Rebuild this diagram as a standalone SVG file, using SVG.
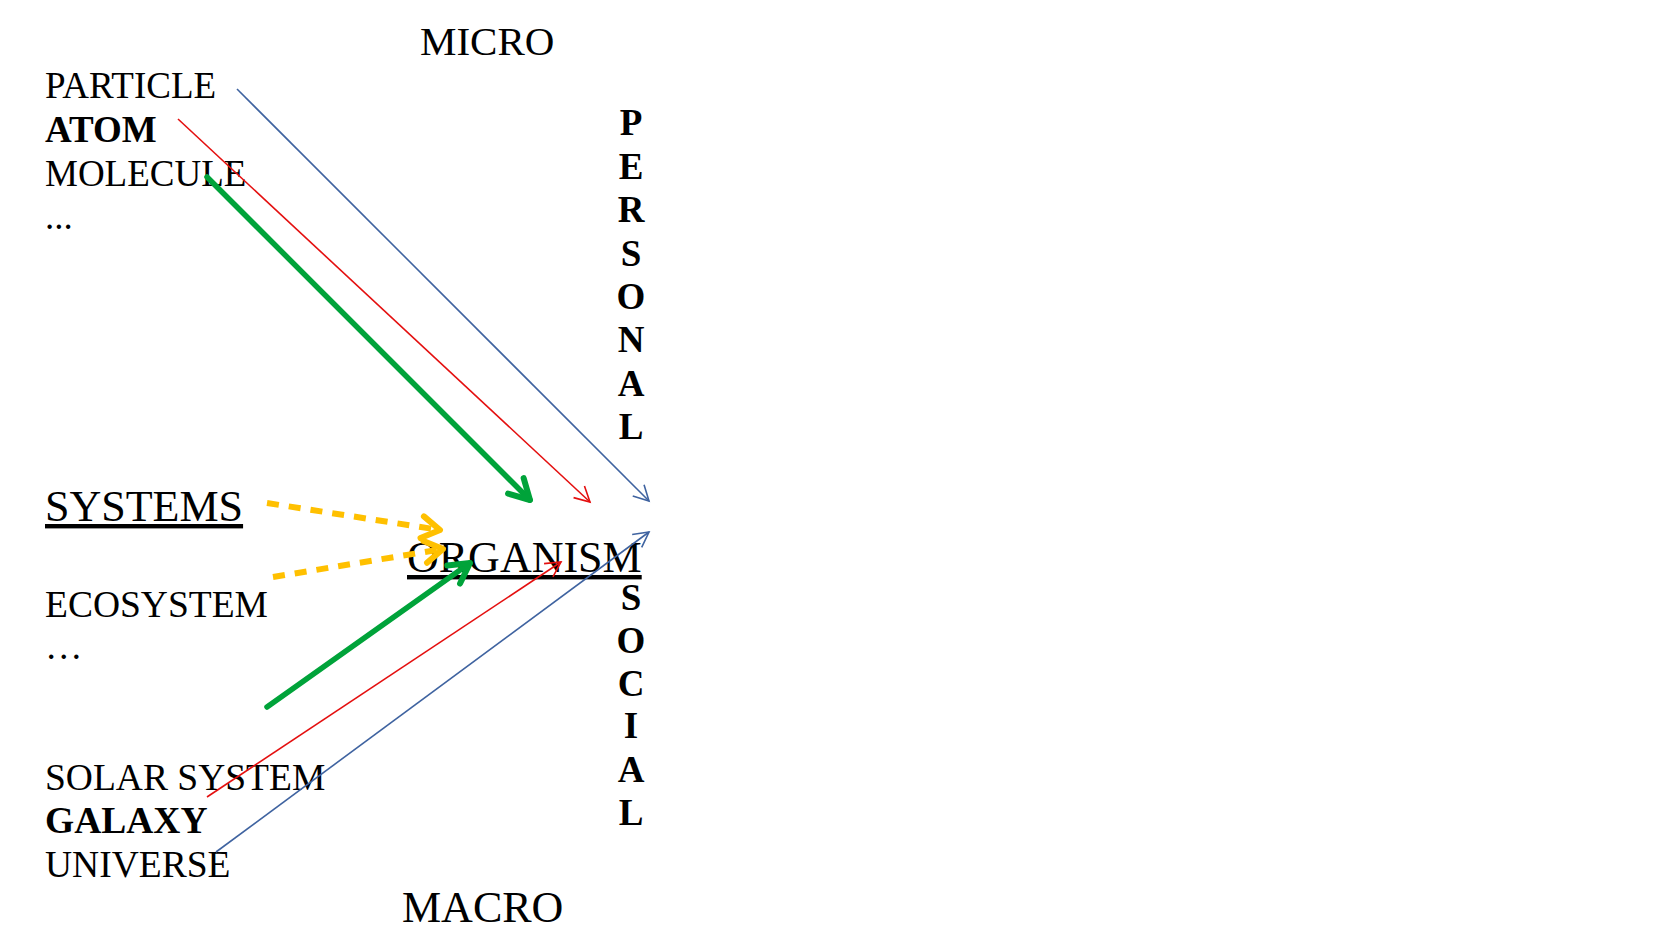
<svg xmlns="http://www.w3.org/2000/svg" width="1654" height="930" viewBox="0 0 1654 930">
<style>
  text { font-family: "Liberation Serif", "Times New Roman", serif; fill: #000; }
  .s36 { font-size: 37px; }
  .s37 { font-size: 37.5px; }
  .big { font-size: 44px; }
  .b { font-weight: bold; }
  .v { font-size: 37px; font-weight: bold; text-anchor: middle; }
  .blue { stroke: #3F63A0; stroke-width: 1.6; fill: none; }
  .red { stroke: #E40F0F; stroke-width: 1.6; fill: none; }
  .green { stroke: #00A33A; stroke-width: 5.5; fill: none; stroke-linecap: round; }
  .yellow { stroke: #FFC000; stroke-width: 6; fill: none; stroke-dasharray: 12 10; }
</style>
<defs>
  <marker id="hBlue" markerUnits="userSpaceOnUse" viewBox="-20 -12 24 24" refX="0" refY="0" markerWidth="24" markerHeight="24" orient="auto">
    <path d="M-15,-8 L0,0 L-15,8" fill="none" stroke="#3F63A0" stroke-width="1.6"/>
  </marker>
  <marker id="hRed" markerUnits="userSpaceOnUse" viewBox="-20 -12 24 24" refX="0" refY="0" markerWidth="24" markerHeight="24" orient="auto">
    <path d="M-15,-8 L0,0 L-15,8" fill="none" stroke="#E40F0F" stroke-width="1.6"/>
  </marker>
  <marker id="hGreen" markerUnits="userSpaceOnUse" viewBox="-30 -18 36 36" refX="0" refY="0" markerWidth="36" markerHeight="36" orient="auto">
    <path d="M-20,-11 L0,0 L-20,11" fill="none" stroke="#00A33A" stroke-width="6" stroke-linecap="round" stroke-linejoin="round"/>
  </marker>
  <marker id="hYellow" markerUnits="userSpaceOnUse" viewBox="-30 -18 36 36" refX="0" refY="0" markerWidth="36" markerHeight="36" orient="auto">
    <path d="M-18,-11 L0,0 L-18,11" fill="none" stroke="#FFC000" stroke-width="6" stroke-linecap="round" stroke-linejoin="round"/>
  </marker>
</defs>

<g id="micro"><text x="420" y="55" style="font-size:41px">MICRO</text></g>
<g id="particle"><text class="s36" x="45" y="98">PARTICLE</text></g>
<g id="atom"><text class="s36 b" x="45" y="142">ATOM</text></g>
<g id="molecule"><text class="s36" x="45" y="186">MOLECULE</text></g>
<g id="dots1"><text class="s36" x="45" y="229">...</text></g>

<g id="systems"><text class="big" x="45" y="521" text-decoration="underline">SYSTEMS</text></g>
<g id="organism"><text class="big" x="407" y="572" text-decoration="underline">ORGANISM</text></g>
<g id="ecosystem"><text class="s37" x="45" y="617">ECOSYSTEM</text></g>
<g id="dots2"><text class="s37" x="45" y="659">…</text></g>

<g id="solar"><text class="s37" x="45" y="790">SOLAR SYSTEM</text></g>
<g id="galaxy"><text class="s37 b" x="45" y="833">GALAXY</text></g>
<g id="universe"><text class="s37" x="45" y="877">UNIVERSE</text></g>
<g id="macro"><text class="big" x="402" y="922">MACRO</text></g>

<g id="personal">
  <text class="v" x="631" y="135">P</text>
  <text class="v" x="631" y="179">E</text>
  <text class="v" x="631" y="222">R</text>
  <text class="v" x="631" y="266">S</text>
  <text class="v" x="631" y="309">O</text>
  <text class="v" x="631" y="352">N</text>
  <text class="v" x="631" y="396">A</text>
  <text class="v" x="631" y="439">L</text>
</g>
<g id="social">
  <text class="v" x="631" y="610">S</text>
  <text class="v" x="631" y="653">O</text>
  <text class="v" x="631" y="696">C</text>
  <text class="v" x="631" y="738">I</text>
  <text class="v" x="631" y="782">A</text>
  <text class="v" x="631" y="825">L</text>
</g>

<g id="connectors">
  <line class="blue" x1="237" y1="89" x2="649" y2="501" marker-end="url(#hBlue)"/>
  <line class="red" x1="178" y1="119" x2="590" y2="502" marker-end="url(#hRed)"/>
  <line class="green" x1="207" y1="177" x2="530" y2="500" marker-end="url(#hGreen)"/>
  <line class="yellow" x1="267" y1="503" x2="440" y2="530" marker-end="url(#hYellow)"/>
  <line class="yellow" x1="273" y1="577" x2="443" y2="549" marker-end="url(#hYellow)"/>
  <line class="green" x1="267" y1="707" x2="470" y2="563" marker-end="url(#hGreen)"/>
  <line class="red" x1="207" y1="797" x2="561" y2="562" marker-end="url(#hRed)"/>
  <line class="blue" x1="216" y1="852" x2="649" y2="532" marker-end="url(#hBlue)"/>
</g>
</svg>
